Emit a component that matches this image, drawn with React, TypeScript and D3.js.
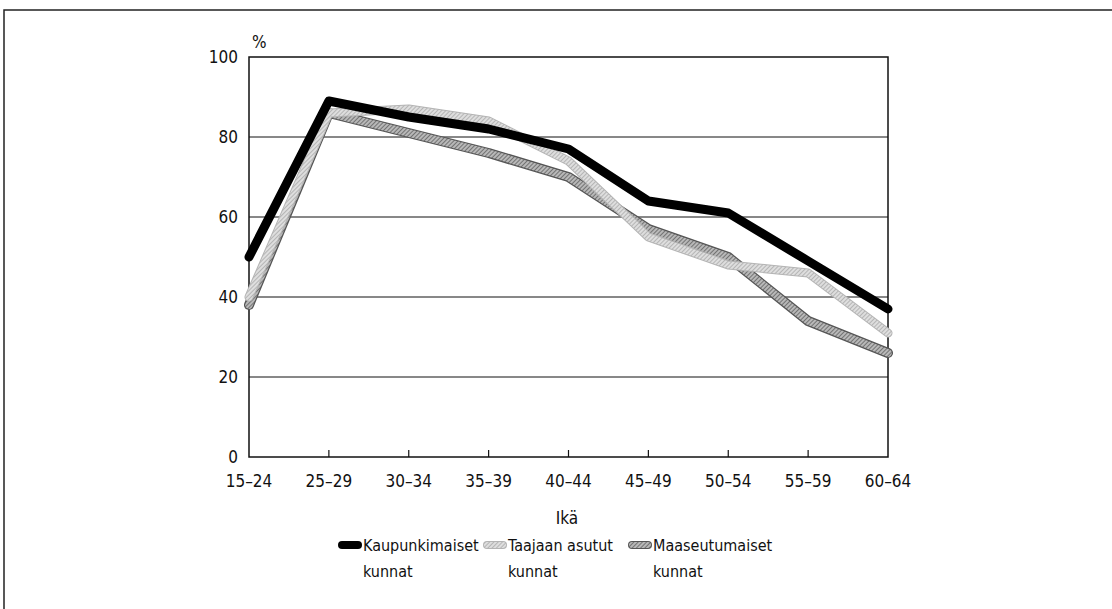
import React, { useEffect, useRef } from 'react';
import * as d3 from 'd3';

// age groups on the x axis
const ages = ['15–24', '25–29', '30–34', '35–39', '40–44', '45–49', '50–54', '55–59', '60–64'];
const kaupunki = [50, 89, 85, 82, 77, 64, 61, 49, 37];
const taajaan = [40, 86, 87, 84, 74, 55, 48, 46, 31];
const maaseutu = [38, 86, 81, 76, 70, 57, 50, 34, 26];
const yTicks = [0, 20, 40, 60, 80, 100];

const seriesNames = [
  ['Kaupunkimaiset', 'kunnat'],
  ['Taajaan asutut', 'kunnat'],
  ['Maaseutumaiset', 'kunnat'],
];

const FONT = '"Liberation Sans Narrow", "DejaVu Sans Condensed", "Roboto", sans-serif';

const App: React.FC = () => {
  const ref = useRef<SVGSVGElement>(null);

  useEffect(() => {
    const svg = d3.select(ref.current);
    svg.selectAll('*').remove();

    const left = 249, right = 888, top = 57, bottom = 457;
    const x = d3.scalePoint<string>().domain(ages).range([left, right]);
    const y = d3.scaleLinear().domain([0, 100]).range([bottom, top]);

    // hatch patterns for the grey lines
    const defs = svg.append('defs');
    const light = defs.append('pattern').attr('id', 'hLight').attr('patternUnits', 'userSpaceOnUse')
      .attr('width', 3).attr('height', 3).attr('patternTransform', 'rotate(45)');
    light.append('rect').attr('width', 3).attr('height', 3).attr('fill', '#dedede');
    light.append('line').attr('x1', 0).attr('y1', 0).attr('x2', 0).attr('y2', 3)
      .attr('stroke', '#9a9a9a').attr('stroke-width', 1.2);
    const dark = defs.append('pattern').attr('id', 'hDark').attr('patternUnits', 'userSpaceOnUse')
      .attr('width', 3).attr('height', 3).attr('patternTransform', 'rotate(45)');
    dark.append('rect').attr('width', 3).attr('height', 3).attr('fill', '#b8b8b8');
    dark.append('line').attr('x1', 0).attr('y1', 0).attr('x2', 0).attr('y2', 3)
      .attr('stroke', '#555').attr('stroke-width', 1.4);

    // outer frame
    svg.append('path').attr('d', 'M4,609 L4,10 L1112,10').attr('fill', 'none')
      .attr('stroke', '#222').attr('stroke-width', 1.5);

    // gridlines
    svg.append('g').selectAll('line').data(yTicks.filter(t => t > 0 && t < 100)).enter().append('line')
      .attr('x1', left).attr('x2', right).attr('y1', d => y(d)).attr('y2', d => y(d))
      .attr('stroke', '#111').attr('stroke-width', 1);

    // plot box
    svg.append('rect').attr('x', left).attr('y', top).attr('width', right - left).attr('height', bottom - top)
      .attr('fill', 'none').attr('stroke', '#111').attr('stroke-width', 1.5);

    // x ticks (upward)
    svg.append('g').selectAll('line').data(ages.slice(1, -1)).enter().append('line')
      .attr('x1', d => x(d)!).attr('x2', d => x(d)!).attr('y1', bottom).attr('y2', bottom - 7)
      .attr('stroke', '#111').attr('stroke-width', 1.2);

    const text = (g: any, size = 17) => g.attr('font-family', FONT).attr('font-size', size).attr('fill', '#111');

    svg.append('g').call(text).selectAll('text').data(yTicks).enter().append('text')
      .attr('x', 238).attr('y', d => y(d)).attr('dy', '0.36em').attr('text-anchor', 'end').text(d => d);
    svg.append('text').call(text).attr('x', 252).attr('y', 48).text('%');

    svg.append('g').call(text).selectAll('text').data(ages).enter().append('text')
      .attr('x', d => x(d)!).attr('y', 487).attr('text-anchor', 'middle').text(d => d);
    svg.append('text').call(text).attr('x', 567).attr('y', 524).attr('text-anchor', 'middle').text('Ikä');

    const line = d3.line<number>().x((_, i) => x(ages[i])!).y(d => y(d));
    const g = svg.append('g').attr('fill', 'none').attr('stroke-linejoin', 'round').attr('stroke-linecap', 'round');
    g.append('path').attr('d', line(maaseutu)).attr('stroke', '#555').attr('stroke-width', 10);
    g.append('path').attr('d', line(maaseutu)).attr('stroke', 'url(#hDark)').attr('stroke-width', 7.5);
    g.append('path').attr('d', line(taajaan)).attr('stroke', '#b4b4b4').attr('stroke-width', 9);
    g.append('path').attr('d', line(taajaan)).attr('stroke', 'url(#hLight)').attr('stroke-width', 7);
    g.append('path').attr('d', line(kaupunki)).attr('stroke', '#000').attr('stroke-width', 9);

    // legend
    const legX = [338, 483, 628];
    const lg = svg.append('g');
    seriesNames.forEach((names, i) => {
      const lx = legX[i];
      const sym = lg.append('g').attr('stroke-linecap', 'round');
      const seg = () => sym.append('line').attr('x1', lx + 4).attr('x2', lx + 20).attr('y1', 545).attr('y2', 545);
      if (i === 0) {
        seg().attr('stroke', '#000').attr('stroke-width', 8);
      } else if (i === 1) {
        seg().attr('stroke', '#b4b4b4').attr('stroke-width', 8);
        seg().attr('stroke', 'url(#hLight)').attr('stroke-width', 6);
      } else {
        seg().attr('stroke', '#555').attr('stroke-width', 8);
        seg().attr('stroke', 'url(#hDark)').attr('stroke-width', 6);
      }
      lg.append('text').call(text, 16).attr('x', lx + 25).attr('y', 551).text(names[0]);
      lg.append('text').call(text, 16).attr('x', lx + 25).attr('y', 577).text(names[1]);
    });
  }, []);

  return (
    <svg ref={ref} width={1112} height={609}
      style={{ position: 'absolute', left: 0, top: 0, background: '#fff' }} />
  );
};

export default App;
